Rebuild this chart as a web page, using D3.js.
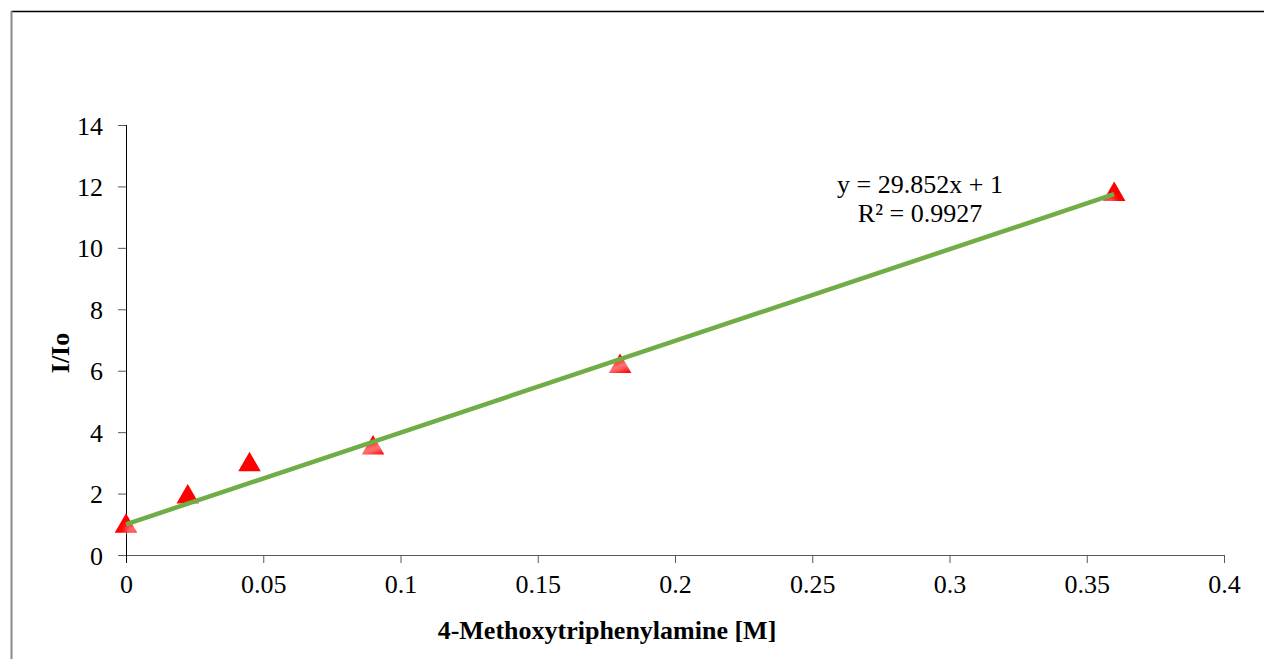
<!DOCTYPE html>
<meta charset="utf-8">
<style>
  body { margin: 0; background: #fff; }
  text { font-family: "Liberation Serif", "Times New Roman", serif; }
</style>
<svg width="1264" height="659"></svg>
<script src="https://d3js.org/d3.v7.min.js"></script>
<script>
  // measured points
  var concentration = [0, 0.0225, 0.045, 0.09, 0.18, 0.36]
  var ratio = [1.0, 1.95, 3.0, 3.55, 6.2, 11.8]

  // linear trend shown on the chart
  var slope = 29.852
  var intercept = 1
  var rSquared = 0.9927

  var xTicks = [0, 0.05, 0.1, 0.15, 0.2, 0.25, 0.3, 0.35, 0.4]
  var yTicks = [0, 2, 4, 6, 8, 10, 12, 14]

  var fontSize = 26
  var svg = d3.select('svg')

  // outer frame (only top and left edges show)
  svg.append('line')
    .attr('x1', 11).attr('y1', 11.5).attr('x2', 1264).attr('y2', 11.5)
    .attr('stroke', '#000').attr('stroke-width', 1.5)
  svg.append('line')
    .attr('x1', 11.5).attr('y1', 11).attr('x2', 11.5).attr('y2', 659)
    .attr('stroke', '#888').attr('stroke-width', 2)

  var x = d3.scaleLinear().domain([0, 0.4]).range([126, 1224])
  var y = d3.scaleLinear().domain([0, 14]).range([555, 125])

  // x axis
  var xAxis = svg.append('g')
    .attr('transform', 'translate(0,' + y(0) + ')')
    .call(d3.axisBottom(x).tickValues(xTicks).tickSize(8).tickSizeOuter(0)
      .tickFormat(d => String(+d.toFixed(2))))
  xAxis.select('.domain').attr('d', 'M118,0.5H' + x(0.4)).attr('stroke', '#595959')
  xAxis.selectAll('.tick line').attr('stroke', '#595959')
  xAxis.selectAll('.tick text')
    .attr('font-size', fontSize).attr('font-family', 'Liberation Serif').attr('fill', '#000')
    .attr('y', 38).attr('dy', 0)

  // y axis
  var yAxis = svg.append('g')
    .attr('transform', 'translate(' + x(0) + ',0)')
    .call(d3.axisLeft(y).tickValues(yTicks).tickSize(8).tickSizeOuter(0))
  yAxis.select('.domain').attr('d', 'M0.5,' + y(14) + 'V' + (y(0) + 8)).attr('stroke', '#000')
  yAxis.selectAll('.tick line').attr('stroke', '#595959')
  yAxis.selectAll('.tick text')
    .attr('font-size', fontSize).attr('font-family', 'Liberation Serif').attr('fill', '#000')
    .attr('x', -23).attr('dy', '0.35em')

  // axis titles
  svg.append('text')
    .attr('x', 607).attr('y', 639)
    .attr('text-anchor', 'middle')
    .attr('font-size', fontSize).attr('font-weight', 'bold')
    .text('4-Methoxytriphenylamine [M]')
  svg.append('text')
    .attr('transform', 'translate(69,' + 353 + ') rotate(-90)')
    .attr('text-anchor', 'middle')
    .attr('font-size', fontSize).attr('font-weight', 'bold')
    .text('I/Io')

  // markers
  var tri = d3.symbol().type(d3.symbolTriangle).size(220)
  svg.append('g')
    .selectAll('path')
    .data(concentration)
    .enter().append('path')
    .attr('d', tri)
    .attr('transform', (d, i) => 'translate(' + x(d) + ',' + (y(ratio[i]) + 2) + ')')
    .attr('fill', '#ff0000')

  // trend line with soft white glow under it
  var defs = svg.append('defs')
  defs.append('filter').attr('id', 'glow')
    .attr('x', '-10%').attr('y', '-50%').attr('width', '120%').attr('height', '200%')
    .append('feGaussianBlur').attr('stdDeviation', 3)

  var x0 = concentration[0]
  var x1 = concentration[concentration.length - 1]
  svg.append('line')
    .attr('x1', x(x0)).attr('y1', y(slope * x0 + intercept) + 7)
    .attr('x2', x(x1)).attr('y2', y(slope * x1 + intercept) + 7)
    .attr('stroke', '#fff').attr('stroke-width', 8).attr('opacity', 0.55)
    .attr('filter', 'url(#glow)')
  svg.append('line')
    .attr('x1', x(x0)).attr('y1', y(slope * x0 + intercept))
    .attr('x2', x(x1)).attr('y2', y(slope * x1 + intercept))
    .attr('stroke', '#70ad47').attr('stroke-width', 4.5)

  // equation label
  var eq = svg.append('text')
    .attr('text-anchor', 'middle')
    .attr('font-size', fontSize)
  eq.append('tspan').attr('x', 920).attr('y', 193)
    .text('y = ' + slope + 'x + ' + intercept)
  eq.append('tspan').attr('x', 920).attr('y', 222)
    .text('R² = ' + rSquared)
</script>
